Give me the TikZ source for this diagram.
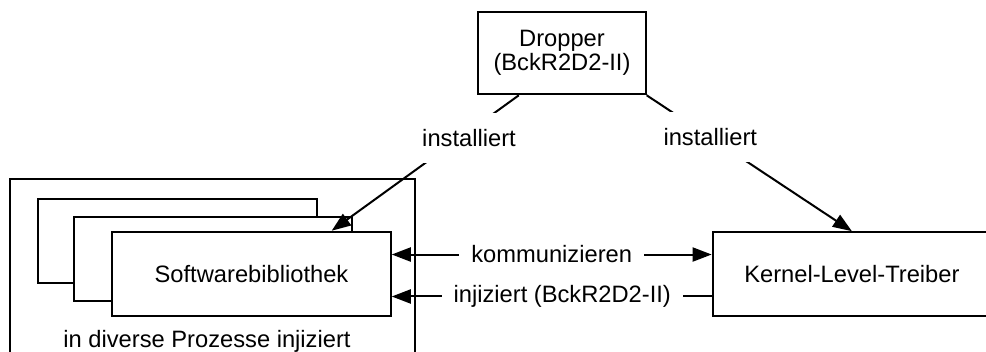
\documentclass[tikz,border=0pt]{standalone}
\usepackage{fontspec}
\setmainfont{Liberation Sans}
\usetikzlibrary{arrows.meta,calc}
\begin{document}
\begin{tikzpicture}[x=1pt,y=-1pt,
  font=\fontsize{23.7}{27}\selectfont,
  box/.style={draw,line width=2pt,fill=white,inner sep=0pt,minimum width=278.5pt,minimum height=84pt},
  tip/.tip={Triangle[length=19pt,width=14pt]},
  conn/.style={line width=2pt,-tip},
  vlab/.style={fill=white,inner sep=0pt,minimum width=100pt,minimum height=50pt},
  hlab/.style={fill=white,inner xsep=12pt,inner ysep=3pt}]
\useasboundingbox (0,0) rectangle (986,352);
% outer process frame
\node[draw,line width=2pt,inner sep=0pt,minimum width=405pt,minimum height=196pt] (outer) at (212.5,277) {};
\node (outerlab) at (207,341) {in diverse Prozesse injiziert};
% stacked library boxes
\node[box] (back1) at (177.4,241.3) {};
\node[box] (back2) at (213.2,259) {};
\node[box] (soft) at (251.5,273.7) {Softwarebibliothek};
% kernel driver
\node[box] (kern) at (851.9,274.2) {Kernel-Level-Treiber};
% dropper
\node[box,minimum width=167.4pt,minimum height=82.6pt,align=center,font=\fontsize{23.7}{23.5}\selectfont] (drop) at (562,53) {Dropper\\(BckR2D2-II)};
% install connectors
\coordinate (dl) at ($(drop.south west)!0.245!(drop.south east)$);
\coordinate (st) at ($(soft.north west)!0.786!(soft.north east)$);
\draw[conn] (dl) -- (st);
\draw[conn] (drop.south east) -- (kern.north);
\node[vlab] (inst1) at (469,138.3) {installiert};
\node[vlab] (inst2) at (710.3,137) {installiert};
% communication connectors
\coordinate (k1) at ($(soft.north east)!0.277!(soft.south east)$);
\coordinate (k2) at ($(soft.north east)!0.765!(soft.south east)$);
\draw[line width=2pt,tip-tip] (k1) -- (kern.west |- k1) node[hlab,midway] (kom) {kommunizieren};
\draw[conn] (kern.west |- k2) -- (k2) node[hlab,pos=0.467] (inj) {injiziert (BckR2D2-II)};
\end{tikzpicture}
\end{document}
